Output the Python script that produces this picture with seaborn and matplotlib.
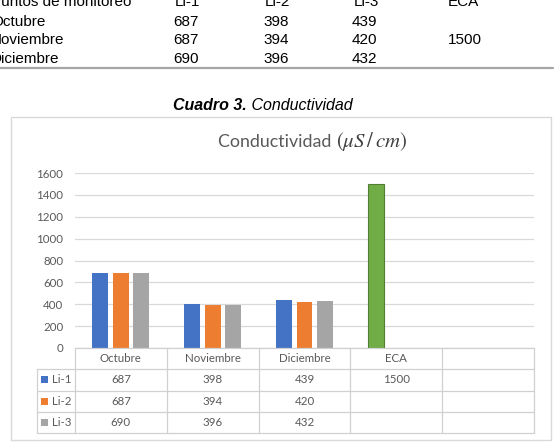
import numpy as np
import pandas as pd
import matplotlib
matplotlib.use("Agg")
import matplotlib.pyplot as plt
from matplotlib.patches import Rectangle
from matplotlib.lines import Line2D
import seaborn as sns

# ---------------- data ----------------
categorias = ["Octubre", "Noviembre", "Diciembre", "ECA", ""]
series = ["Li-1", "Li-2", "Li-3"]
li1 = [687, 398, 439, 1500, np.nan]
li2 = [687, 394, 420, np.nan, np.nan]
li3 = [690, 396, 432, np.nan, np.nan]
yticks = [0, 200, 400, 600, 800, 1000, 1200, 1400, 1600]

# top document table
doc_header = ["Puntos de monitoreo", "Li-1", "Li-2", "Li-3", "ECA"]
doc_rows = ["Octubre", "Noviembre", "Diciembre"]
doc_li1 = ["687", "687", "690"]
doc_li2 = ["398", "394", "396"]
doc_li3 = ["439", "420", "432"]
doc_eca = ["", "1500", ""]

titulo = "Conductividad "
titulo_math = r"$(\mu S\,/\,cm)$"
caption_bold = "Cuadro 3."
caption_rest = " Conductividad"

colores = {"Li-1": "#4472C4", "Li-2": "#ED7D31", "Li-3": "#A5A5A5"}
verde = "#70AD47"
verde_borde = "#507E32"
gris_txt = "#595959"
gris_lin = "#D9D9D9"

W, H = 558, 445
sns.set_theme(style="white")
plt.rcParams["font.family"] = ["Lato", "DejaVu Sans"]
plt.rcParams["mathtext.fontset"] = "stix"

fig = plt.figure(figsize=(W / 100, H / 100), dpi=100)
fig.patch.set_facecolor("white")


def fx(x):
    return x / W


def fy(y):
    return 1 - y / H


# ---------------- top document table ----------------
doc_font = ["Liberation Sans", "DejaVu Sans"]
baselines = [6, 26, 44.5, 63]
col_x = [-9, 173, 263, 352, 448]
fig.text(fx(col_x[0]), fy(baselines[0]), doc_header[0], family=doc_font, fontsize=11, color="black", va="baseline")
for j in range(1, 5):
    fig.text(fx(col_x[j] + (2 if j < 4 else 0)), fy(baselines[0]), doc_header[j], family=doc_font, fontsize=11, color="black", va="baseline")
for i, r in enumerate(doc_rows):
    b = fy(baselines[i + 1])
    fig.text(fx(-9), b, r, family=doc_font, fontsize=11, va="baseline", color="black")
    for j, col in enumerate([doc_li1, doc_li2, doc_li3, doc_eca]):
        fig.text(fx(col_x[j + 1]), b, col[i], family=doc_font, fontsize=11, va="baseline", color="black")
fig.add_artist(Line2D([fx(0), fx(553)], [fy(67.5), fy(67.5)], color="#A6A6A6", lw=1.6, transform=fig.transFigure))

# caption
renderer = fig.canvas.get_renderer()
t1 = fig.text(fx(173), fy(110.5), caption_bold, family=doc_font, fontsize=11.5, fontweight="bold", fontstyle="italic", va="baseline", color="black")
bb = t1.get_window_extent(renderer)
fig.text(bb.x1 / fig.bbox.width, fy(110.5), caption_rest, family=doc_font, fontsize=11.5, fontstyle="italic", va="baseline", color="black")

# chart border
fig.add_artist(Rectangle((fx(11), fy(440)), fx(551) - fx(11), fy(117) - fy(440), transform=fig.transFigure,
                         fill=False, edgecolor=gris_lin, lw=1.0))

# title
tt = fig.text(fx(218), fy(147), titulo, fontsize=12.8, color=gris_txt, va="baseline")
bb = tt.get_window_extent(renderer)
fig.text(bb.x1 / fig.bbox.width, fy(147), titulo_math, fontsize=15, color="#404040", va="baseline")

# ---------------- bar chart ----------------
df = pd.DataFrame({
    "categoria": categorias * 3,
    "serie": [s for s in series for _ in categorias],
    "valor": li1 + li2 + li3,
}).dropna()

ax = fig.add_axes([fx(75), fy(348), fx(534) - fx(75), fy(173) - fy(348)])
sns.barplot(data=df, x="categoria", y="valor", hue="serie", order=categorias, hue_order=series,
            palette=colores, saturation=1, width=0.668, gap=0.22, legend=False, ax=ax, linewidth=0)
ax.set_xlim(-0.5, 4.5)
ax.set_ylim(0, 1600)
ax.set_yticks(yticks)
ax.set_yticklabels([str(v) for v in yticks])
ax.tick_params(axis="y", length=0, pad=8.5, labelsize=8.3, labelcolor=gris_txt)
ax.set_xticks([])
ax.set_xlabel("")
ax.set_ylabel("")
for s in ax.spines.values():
    s.set_visible(False)
ax.grid(axis="y", color=gris_lin, lw=0.9)
ax.set_axisbelow(True)

# ECA point of Li-1 shown in green
for bar in ax.containers[0]:
    cx = bar.get_x() + bar.get_width() / 2
    if abs(cx - categorias.index("ECA")) < 0.5:
        bar.set_facecolor(verde)
        bar.set_edgecolor(verde_borde)
        bar.set_linewidth(0.8)

# ---------------- data table ----------------
unit = (534 - 75) / 5.0
left_units = -0.5 - (75 - 37) / unit
tab = fig.add_axes([fx(37), fy(433), fx(534) - fx(37), fy(348) - fy(433)])
tab.set_xlim(left_units, 4.5)
tab.set_ylim(4, 0)
tab.axis("off")
lc = "#D0D0D0"
lw = 0.9
tab.plot([-0.5, 4.5], [0, 0], color=lc, lw=lw, clip_on=False)
for yv in [1, 2, 3, 4]:
    tab.plot([left_units, 4.5], [yv, yv], color=lc, lw=lw, clip_on=False)
for xv in [-0.5, 0.5, 1.5, 2.5, 3.5, 4.5]:
    tab.plot([xv, xv], [0, 4], color=lc, lw=lw, clip_on=False)
tab.plot([left_units, left_units], [1, 4], color=lc, lw=lw, clip_on=False)

for i, c in enumerate(categorias):
    tab.text(i, 0.5, c, ha="center", va="center", fontsize=8.3, color=gris_txt)
vals = [li1, li2, li3]
kw = 7 / unit
kh = 7 / ((433 - 348) / 4)
for r, s in enumerate(series):
    yc = r + 1.5
    tab.add_patch(Rectangle((left_units + 4 / unit, yc - kh / 2), kw, kh, facecolor=colores[s], edgecolor="none", clip_on=False))
    tab.text(left_units + 15 / unit, yc, s, ha="left", va="center", fontsize=8.3, color=gris_txt)
    for i, v in enumerate(vals[r]):
        if not np.isnan(v):
            tab.text(i, yc, f"{int(v)}", ha="center", va="center", fontsize=8.3, color=gris_txt)

fig.savefig("out.png", dpi=100, facecolor="white")
